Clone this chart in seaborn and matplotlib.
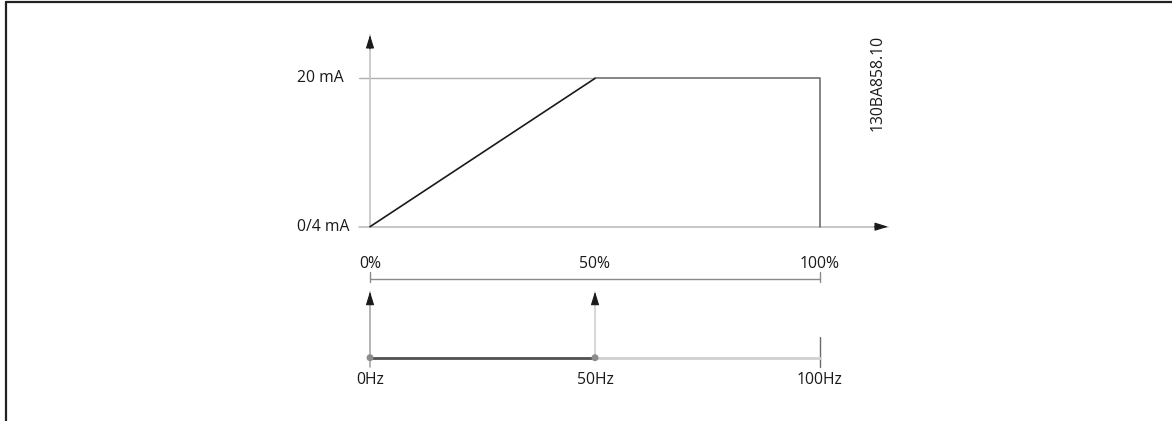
import matplotlib
matplotlib.use("Agg")
import matplotlib.pyplot as plt
from matplotlib.lines import Line2D
import seaborn as sns
import pandas as pd

# chart data
pct_ticks = [0, 50, 100]
pct_labels = ["0%", "50%", "100%"]
hz_ticks = [0, 50, 100]
hz_labels = ["0Hz", "50Hz", "100Hz"]
ma_ticks = [4, 20]
ma_labels = ["0/4 mA", "20 mA"]
ramp_pct = [0, 50]
ramp_ma = [4, 20]
hold_pct = [50, 100, 100]
hold_ma = [20, 20, 4]
active_hz = [0, 50]
idle_hz = [50, 100]
code_label = "130BA858.10"

sns.set_style("white")
plt.rcParams["font.family"] = ["Open Sans", "DejaVu Sans"]
txt = "#1a1a1a"
fs = 11.3

fig = plt.figure(figsize=(11.72, 4.21), dpi=100)

# pixel mapping helpers (x: 370px at 0, 4.5px per unit)
W, H = 1172, 421
x0, xs = 370, 4.5
xlim = (-x0 / xs, (W - x0) / xs)

# upper panel: output current vs reference
y4, ys = 226.7, 9.27
top_px = 245
ax = fig.add_axes([0, 1 - top_px / H, 1, top_px / H])
ax.set_xlim(*xlim)
ax.set_ylim(4 - (top_px - y4) / ys, 4 + y4 / ys)
ax.axis("off")

xl = (359 - x0) / xs
x_tip = (888 - x0) / xs
y_tip = 4 + (y4 - 35) / ys
ax.plot([xl, 50], [20, 20], color="#b0b0b0", lw=1)
ax.plot([xl, x_tip], [4, 4], color="#bdbdbd", lw=1.2)
ax.plot([0, 0], [4, y_tip], color="#c4c4c4", lw=1.2)
arrow = dict(arrowstyle="-|>,head_length=0.8,head_width=0.25", color="#1a1a1a",
             lw=0.8, shrinkA=0, shrinkB=0)
ax.annotate("", xy=(x_tip, 4), xytext=(x_tip - 3, 4), arrowprops=arrow)
ax.annotate("", xy=(0, y_tip), xytext=(0, y_tip - 1.5), arrowprops=arrow)

df_hold = pd.DataFrame({"pct": hold_pct, "ma": hold_ma})
sns.lineplot(data=df_hold, x="pct", y="ma", ax=ax, color="#707070", lw=1.2,
             sort=False, estimator=None)
sns.lineplot(x=ramp_pct, y=ramp_ma, ax=ax, color="#1a1a1a", lw=1.2)
ax.axis("off")

for v, lab in zip(ma_ticks, ma_labels):
    ax.text((297 - x0) / xs, v, lab, ha="left", va="center", fontsize=fs, color=txt)

ax.text((878 - x0) / xs, 4 + (y4 - 83) / ys, code_label, rotation=90,
        ha="center", va="center", fontsize=fs, color=txt)

# lower panel: frequency range
base = 357.7
ax2 = fig.add_axes([0, 0, 1, (H - top_px) / H])
ax2.set_xlim(*xlim)
ax2.set_ylim(-(H - base), base - top_px)

bar_y = base - 279.3
ax2.plot([0, 100], [bar_y, bar_y], color="#8a8a8a", lw=1)
for v in [0, 100]:
    ax2.plot([v, v], [bar_y - 2.4, bar_y + 7.6], color="#8a8a8a", lw=1)
for v, lab in zip(pct_ticks, pct_labels):
    ax2.text(v, base - 264, lab, ha="center", va="center", fontsize=fs, color=txt)

a_tip = base - 291.7
ax2.plot([0, 0], [-9, a_tip], color="#a8a8a8", lw=1.2)
ax2.plot([50, 50], [0, a_tip], color="#cfcfcf", lw=1.2)
for v in [0, 50]:
    ax2.annotate("", xy=(v, a_tip), xytext=(v, a_tip - 12), arrowprops=arrow)
ax2.plot([100, 100], [-9, 21], color="#6a6a6a", lw=1)

df_idle = pd.DataFrame({"hz": idle_hz, "y": [0, 0]})
df_act = pd.DataFrame({"hz": active_hz, "y": [0, 0]})
sns.lineplot(data=df_idle, x="hz", y="y", ax=ax2, color="#d0d0d0", lw=2)
sns.lineplot(data=df_act, x="hz", y="y", ax=ax2, color="#505050", lw=2)
sns.scatterplot(data=df_act, x="hz", y="y", ax=ax2, color="#8c8c8c", s=25,
                edgecolor="none", zorder=5)
ax2.axis("off")

for v, lab in zip(hz_ticks, hz_labels):
    ax2.text(v, base - 380.5, lab, ha="center", va="center", fontsize=fs, color=txt)

# page frame (top and left edges)
fig.add_artist(Line2D([6 / W, 1], [1 - 2.3 / H, 1 - 2.3 / H], color="#222222", lw=1.6))
fig.add_artist(Line2D([6 / W, 6 / W], [0, 1 - 2.3 / H], color="#222222", lw=1.6))

fig.savefig("out.png", dpi=100)
